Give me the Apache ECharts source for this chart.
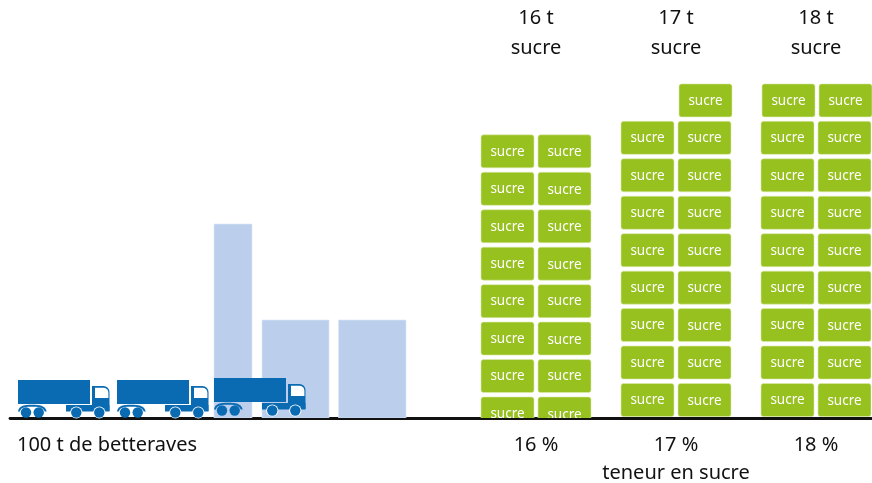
<!DOCTYPE html>
<html><head><meta charset="utf-8">
<style>html,body{margin:0;padding:0;background:#fff}#c{width:872px;height:483px}</style>
<script src="https://cdn.jsdelivr.net/npm/echarts@6/dist/echarts.min.js"></script>
</head><body><div id="c"></div>
<script>
// ---- data
const sugarContent = ['16 %', '17 %', '18 %'];
const sugarTonnes = [16, 17, 18];
const sugarHeads = ['16 t\nsucre', '17 t\nsucre', '18 t\nsucre'];
const blockLabel = 'sucre';
const beetLabel = '100 t de betteraves';
const contentTitle = 'teneur en sucre';
const beetBarHeights = [194, 98, 98];
const truckCount = 3;

// ---- layout (chart units = pixels above the baseline / along the axis)
const FONT = '"Noto Sans", sans-serif';
const columnCentres = [536, 676, 816];
const blockCols = [[481, 538], [621, 678], [761, 818]];
const columnDrop = [13.5, 0, 0];
const blockW = 53, blockH = 33, rowPitch = 37.45, baseGap = 1.5;
const beetBarX = [[214, 252], [262, 329], [338.5, 406]];
const truckX = [18, 117, 214];
const truckLift = [0, 0, 2];
const beetLabelX = 107;

const blockData = [];
sugarTonnes.forEach((n, c) => {
  const rows = Math.ceil(n / 2);
  for (let r = 0; r < rows; r++) {
    for (let s = 0; s < 2; s++) {
      if (r === rows - 1 && n % 2 === 1 && s === 0) continue;
      blockData.push([c, r, s]);
    }
  }
});

function renderBlock(params, api) {
  const c = api.value(0), r = api.value(1), s = api.value(2);
  const topRowNudge = (r === Math.ceil(sugarTonnes[c] / 2) - 1 && c > 0) ? 1 : 0;
  const xv = blockCols[c][s] + (c === 1 && topRowNudge && s ? 1 : 0) + (c === 2 && topRowNudge ? 1 : 0);
  const bottom = baseGap - columnDrop[c] + r * rowPitch;
  const p = api.coord([xv, bottom + blockH]);
  return {
    type: 'group',
    children: [
      { type: 'rect', shape: { x: p[0], y: p[1], width: blockW, height: blockH, r: 2.5 },
        style: { fill: '#97c11f', stroke: '#dbe9ab', lineWidth: 0.6 } },
      { type: 'text', style: { text: blockLabel, x: p[0] + blockW / 2, y: p[1] + blockH / 2 + 0.5 + (s && r % 2 === 0 ? 0.7 : 0),
        fill: '#fff', font: '13.5px ' + FONT, align: 'center', verticalAlign: 'middle' } }
    ]
  };
}

function renderBeet(params, api) {
  const i = api.value(0);
  const tl = api.coord([beetBarX[i][0], api.value(1)]);
  const br = api.coord([beetBarX[i][1], 0]);
  return { type: 'rect', shape: { x: tl[0], y: tl[1], width: br[0] - tl[0], height: br[1] - tl[1] },
    style: { fill: '#bbcfec', stroke: '#dbe6f6', lineWidth: 0.6 } };
}

function renderTruck(params, api) {
  const i = api.value(0);
  const o = api.coord([truckX[i], truckLift[i]]);
  const X = o[0], Y = o[1];         // anchor: rear of truck on the ground
  const B = '#0a6bb3', W = '#fff';
  const wheel = (dx) => [
    { type: 'circle', shape: { cx: X + dx, cy: Y - 5.5, r: 6.1 }, style: { fill: W } },
    { type: 'circle', shape: { cx: X + dx, cy: Y - 5.5, r: 5.2 }, style: { fill: B } }
  ];
  return {
    type: 'group',
    children: [
      { type: 'rect', shape: { x: X, y: Y - 38, width: 72, height: 24 }, style: { fill: B } },
      // cab
      { type: 'rect', shape: { x: X + 74, y: Y - 32, width: 17.5, height: 25, r: [0, 6, 0, 0] }, style: { fill: B } },
      { type: 'rect', shape: { x: X + 77, y: Y - 30.2, width: 13.4, height: 10.2, r: [0, 5, 0, 0] }, style: { fill: W } },
      // chassis
      { type: 'rect', shape: { x: X + 48, y: Y - 13, width: 43.5, height: 6.4 }, style: { fill: B } },
      // trailer fender
      { type: 'path', shape: { pathData: `M ${X} ${Y-6.5} C ${X+1} ${Y-12.5} ${X+7} ${Y-13.2} ${X+14} ${Y-13.2} C ${X+21} ${Y-13.2} ${X+27.5} ${Y-12.5} ${X+28.7} ${Y-6.5} L ${X+26.8} ${Y-6.5} C ${X+25} ${Y-11} ${X+20} ${Y-11.2} ${X+14} ${Y-11.2} C ${X+8} ${Y-11.2} ${X+3} ${Y-11} ${X+1.9} ${Y-6.5} Z` },
        style: { fill: B } },
      ...wheel(58.3), ...wheel(81.3),
      { type: 'circle', shape: { cx: X + 8, cy: Y - 5.5, r: 5.2 }, style: { fill: B } },
      { type: 'circle', shape: { cx: X + 20.7, cy: Y - 5.5, r: 5.2 }, style: { fill: B } }
    ]
  };
}

function renderHead(params, api) {
  const i = api.value(0);
  const p = api.coord([columnCentres[i], 0]);
  return { type: 'text', style: { text: sugarHeads[i], x: p[0], y: 3.5, fill: '#111', font: '20px ' + FONT,
    align: 'center', verticalAlign: 'top', lineHeight: 30 } };
}

const axisLabels = new Map([[beetLabelX, beetLabel],
  [columnCentres[0], sugarContent[0]],
  [columnCentres[1], sugarContent[1] + '\n' + contentTitle],
  [columnCentres[2], sugarContent[2]]]);

const chart = echarts.init(document.getElementById('c'), null, { renderer: 'canvas' });
chart.setOption({
  animation: false,
  backgroundColor: '#fff',
  grid: { left: 10, right: 0, top: 0, bottom: 65, outerBoundsMode: 'none', containLabel: false },
  xAxis: {
    type: 'value', min: 10, max: 872, splitLine: { show: false },
    axisLine: { show: true, onZero: false, lineStyle: { color: '#111', width: 2.8 } },
    axisTick: { show: false },
    axisLabel: {
      show: true, customValues: [...axisLabels.keys()], hideOverlap: false, margin: 13,
      formatter: v => axisLabels.get(v) || '',
      color: '#111', fontFamily: '"Noto Sans", sans-serif', fontSize: 20, lineHeight: 28, verticalAlign: 'top', align: 'center'
    }
  },
  yAxis: { type: 'value', min: 0, max: 418, show: false },
  series: [
    { type: 'custom', coordinateSystem: 'cartesian2d', clip: true, z: 1, renderItem: renderBeet,
      data: beetBarHeights.map((h, i) => [i, h]), encode: { x: 0, y: 1 } },
    { type: 'custom', coordinateSystem: 'cartesian2d', clip: true, z: 2, renderItem: renderBlock,
      data: blockData, encode: { x: 0, y: 1 } },
    { type: 'custom', coordinateSystem: 'cartesian2d', clip: false, z: 3, renderItem: renderTruck,
      data: Array.from({ length: truckCount }, (_, i) => [i]), encode: { x: 0 } },
    { type: 'custom', coordinateSystem: 'cartesian2d', clip: false, z: 3, renderItem: renderHead,
      data: sugarTonnes.map((t, i) => [i, t]), encode: { x: 0, y: 1 } }
  ]
});
</script></body></html>
